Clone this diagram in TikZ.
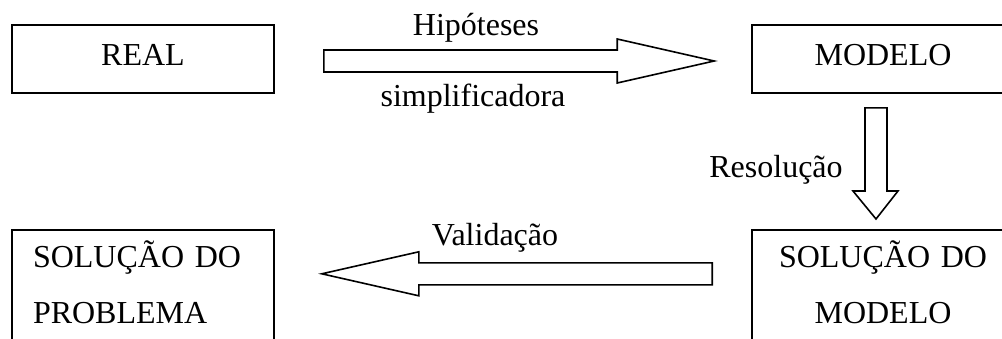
\documentclass[tikz,border=0pt]{standalone}
\usepackage{fontspec}
\setmainfont{Liberation Serif}
\usetikzlibrary{calc}
\tikzstyle{caixa} = [rectangle, draw = black, line width=0.8pt, minimum width=131pt, inner sep=0pt, text height=20pt, text depth=14pt, font=\fontsize{16}{28}\selectfont]
\tikzstyle{caixadupla} = [caixa, text width=110pt, text height=19pt, text depth=44pt]
\tikzstyle{seta} = [draw = black, line width=0.8pt, fill=white]
\tikzstyle{rotulo} = [anchor=base, inner sep=0pt, font=\fontsize{16}{20}\selectfont]

\begin{document}
\begin{tikzpicture}[x=0.5pt, y=-0.5pt]
          \useasboundingbox (0,0) rectangle (1002,338);
          \clip (0,0) rectangle (1002,338);
          \node[caixa] (real) at (143,59) {REAL};
          \node[caixa] (modelo) at (883,59) {MODELO};
          \node[caixadupla, align=center, anchor=north] (solmodelo) at (883,229) {SOLUÇÃO DO\\MODELO};
          \node[caixadupla, align=left, anchor=north] (solproblema) at (143,229) {SOLUÇÃO DO\\PROBLEMA};

          % real -> modelo
          \coordinate (h0) at ($(real.east)+(49,2)$);
          \coordinate (h1) at ($(modelo.west)+(-37,2)$);
          \draw[seta] ($(h0)+(0,-11)$) -- ($(h1)+(-97,-11)$) -- ($(h1)+(-97,-22)$) -- (h1) -- ($(h1)+(-97,22)$) -- ($(h1)+(-97,11)$) -- ($(h0)+(0,11)$) -- cycle;

          % modelo -> solucao do modelo
          \coordinate (r0) at ($(modelo.south)+(-7,14)$);
          \coordinate (r1) at ($(solmodelo.north)+(-7,-10)$);
          \draw[seta] ($(r0)+(-11,0)$) -- ($(r1)+(-11,-28)$) -- ($(r1)+(-23,-28)$) -- (r1) -- ($(r1)+(22,-28)$) -- ($(r1)+(11,-28)$) -- ($(r0)+(11,0)$) -- cycle;

          % solucao do modelo -> solucao do problema
          \coordinate (v0) at ($(solmodelo.west)+(-39,-19)$);
          \coordinate (v1) at ($(solproblema.east)+(47,-19)$);
          \draw[seta] ($(v0)+(0,-11)$) -- ($(v1)+(97,-11)$) -- ($(v1)+(97,-22)$) -- (v1) -- ($(v1)+(97,22)$) -- ($(v1)+(97,11)$) -- ($(v0)+(0,11)$) -- cycle;

          \node[rotulo] (hip) at (476,35) {Hipóteses};
          \node[rotulo] (simp) at (473,106) {simplificadora};
          \node[rotulo] (res) at (776,177) {Resolução};
          \node[rotulo] (val) at (495,245) {Validação};
        \end{tikzpicture}
\end{document}
